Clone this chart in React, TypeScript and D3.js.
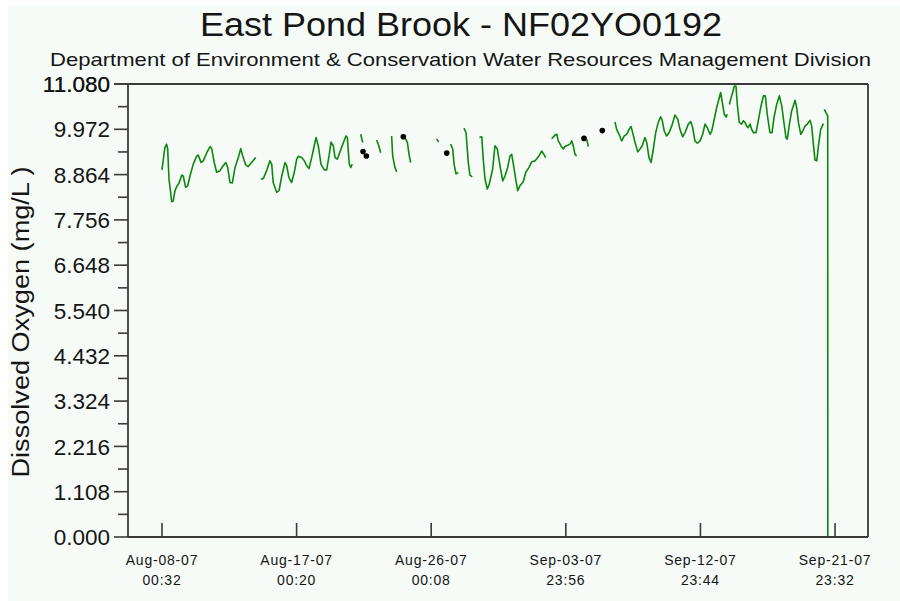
import React from "react";
import * as d3 from "d3";

// Dissolved oxygen record, East Pond Brook (NF02YO0192).
// Each point: [days since Aug-08-07 00:32, dissolved oxygen in mg/L].
// Logger gaps split the record into separate runs.
const run01: [number, number][] = [
  [0.0, 8.98], [0.09, 9.24], [0.2, 9.53], [0.31, 9.61], [0.38, 9.49], [0.47, 8.75],
  [0.65, 8.2], [0.75, 8.22], [0.87, 8.47], [0.98, 8.57], [1.14, 8.66], [1.32, 8.85],
  [1.42, 8.83], [1.58, 8.55], [1.72, 8.59], [1.87, 8.83], [2.09, 9.12], [2.32, 9.32],
  [2.42, 9.34], [2.61, 9.16], [2.76, 9.2], [2.99, 9.4], [3.21, 9.55], [3.32, 9.5],
  [3.49, 9.16], [3.65, 8.92], [3.87, 8.96], [4.09, 9.08], [4.26, 9.16], [4.39, 9.04],
  [4.54, 8.67], [4.7, 8.66], [4.88, 9.04], [5.1, 9.28], [5.26, 9.5], [5.36, 9.36],
  [5.59, 9.1], [5.76, 9.06], [5.99, 9.16], [6.26, 9.28],
];
const run02: [number, number][] = [
  [6.61, 8.75], [6.77, 8.77], [6.99, 8.96], [7.21, 9.2], [7.33, 9.12], [7.43, 8.67],
  [7.66, 8.43], [7.82, 8.47], [8.0, 8.83], [8.22, 9.16], [8.33, 9.08], [8.48, 8.79],
  [8.66, 8.67], [8.84, 8.92], [9.0, 9.24], [9.1, 9.31], [9.33, 9.28], [9.51, 9.2],
  [9.67, 9.08], [9.82, 9.01], [10.0, 9.28], [10.17, 9.57], [10.29, 9.77], [10.44, 9.57],
  [10.62, 9.12], [10.84, 8.98], [11.0, 8.98], [11.16, 9.32], [11.29, 9.66], [11.44, 9.57],
  [11.56, 9.28], [11.71, 9.24], [12.0, 9.53], [12.29, 9.81], [12.38, 9.77], [12.51, 9.12],
  [12.61, 9.04], [12.71, 9.12],
];
const run03: [number, number][] = [[13.27, 9.85], [13.41, 9.65]];
const run04: [number, number][] = [[14.34, 9.71], [14.48, 9.57], [14.61, 9.4]];
const run05: [number, number][] = [[15.34, 9.81], [15.41, 9.32], [15.56, 9.04], [15.68, 8.93]];
const run06: [number, number][] = [[16.23, 9.77], [16.39, 9.65], [16.52, 9.32], [16.61, 9.16]];
const run07: [number, number][] = [[18.35, 9.74], [18.48, 9.66]];
const run08: [number, number][] = [
  [19.28, 9.61], [19.42, 9.49], [19.51, 9.12], [19.64, 8.88], [19.79, 8.92],
];
const run09: [number, number][] = [
  [20.17, 10.0], [20.31, 9.89], [20.46, 9.16], [20.57, 8.85], [20.73, 8.81],
];
const run10: [number, number][] = [
  [21.2, 9.77], [21.36, 9.79], [21.46, 9.24], [21.58, 8.75], [21.73, 8.51], [21.86, 8.63],
  [22.09, 9.0], [22.24, 9.57], [22.4, 9.49], [22.58, 9.08], [22.76, 8.71], [22.91, 8.83],
  [23.09, 9.04], [23.25, 9.32], [23.36, 9.36], [23.47, 9.12], [23.63, 8.75], [23.76, 8.47],
  [23.91, 8.59], [24.13, 8.69], [24.3, 8.92], [24.52, 9.04], [24.7, 9.18], [24.92, 9.2],
  [25.14, 9.3], [25.36, 9.44], [25.54, 9.34], [25.63, 9.28],
];
const run11: [number, number][] = [
  [26.03, 9.74], [26.25, 9.83], [26.37, 9.85], [26.47, 9.69], [26.65, 9.57], [26.81, 9.49],
  [26.92, 9.55], [27.1, 9.58], [27.25, 9.61], [27.37, 9.69], [27.47, 9.57], [27.59, 9.36],
  [27.7, 9.32],
];
const run12: [number, number][] = [[28.37, 9.73], [28.48, 9.55]];
const run13: [number, number][] = [
  [30.26, 10.15], [30.37, 9.97], [30.53, 9.85], [30.71, 9.69], [30.88, 9.81], [31.04, 9.85],
  [31.2, 9.97], [31.33, 10.04], [31.44, 9.89], [31.6, 9.65], [31.78, 9.42], [31.93, 9.49],
  [32.08, 9.57], [32.26, 9.77], [32.38, 9.65], [32.53, 9.28], [32.67, 9.16], [32.82, 9.49],
  [32.98, 9.89], [33.15, 10.14], [33.31, 10.28], [33.42, 10.18], [33.55, 9.93], [33.71, 9.81],
  [33.87, 9.89], [34.05, 10.05], [34.27, 10.32], [34.45, 10.22], [34.6, 9.97], [34.78, 9.79],
  [34.94, 9.89], [35.16, 10.1], [35.32, 10.16], [35.45, 10.01], [35.6, 9.69], [35.76, 9.63],
  [35.94, 9.69], [36.12, 9.85], [36.27, 10.1], [36.43, 10.01], [36.61, 9.85], [36.72, 9.93],
  [36.87, 10.18], [37.05, 10.5], [37.23, 10.75], [37.32, 10.87], [37.45, 10.58], [37.56, 10.34],
  [37.68, 10.27], [37.76, 10.34],
];
const run14: [number, number][] = [
  [37.9, 10.58], [37.99, 10.71], [38.12, 10.87], [38.23, 11.03], [38.34, 11.03], [38.43, 10.58],
  [38.56, 10.14], [38.72, 10.1], [38.83, 10.18], [38.94, 10.14], [39.06, 10.05], [39.16, 10.01],
  [39.28, 10.1], [39.39, 9.97], [39.5, 9.89], [39.68, 9.89], [39.83, 10.18], [39.99, 10.5],
  [40.17, 10.79], [40.3, 10.79], [40.43, 10.34], [40.61, 9.89], [40.75, 9.89], [40.88, 10.26],
  [41.06, 10.58], [41.24, 10.79], [41.4, 10.54], [41.5, 10.26], [41.68, 9.77], [41.77, 9.73],
  [41.91, 10.1], [42.06, 10.42], [42.29, 10.68], [42.4, 10.5], [42.51, 10.14], [42.67, 9.85],
  [42.8, 9.93], [42.95, 10.05], [43.11, 10.1], [43.29, 10.19], [43.4, 10.05], [43.51, 9.61],
  [43.62, 9.22], [43.74, 9.2], [43.85, 9.57], [44.0, 9.97], [44.18, 10.11],
];
const run15: [number, number][] = [
  [44.24, 10.46], [44.35, 10.38], [44.47, 10.3], [44.475, 0.0],
];
const RUNS = [
  run01, run02, run03, run04, run05, run06, run07, run08,
  run09, run10, run11, run12, run13, run14, run15,
];

// Isolated single readings, drawn as dots.
const singleReadings: [number, number][] = [
  [13.43, 9.43], [13.65, 9.32], [16.12, 9.79], [19.02, 9.39], [28.19, 9.75], [29.41, 9.94],
];

// Axis settings
const Y_MAX = 11.08;
const Y_STEP = 1.108;
const X_START_DAYS = -2.27;
const X_END_DAYS = 47.16;
const X_TICK_STEP_MIN = 12948; // 8 days 23 h 48 min
const X_TICK_COUNT = 6;

const TITLE = "East Pond Brook - NF02YO0192";
const SUBTITLE =
  "Department of Environment & Conservation Water Resources Management Division";
const Y_LABEL = "Dissolved Oxygen (mg/L )";

const BASE = Date.UTC(2007, 7, 8, 0, 32);
const DAY_MS = 864e5;
const toDate = (d: number) => new Date(BASE + d * DAY_MS);

export default function App() {
  const W = 900;
  const H = 601;
  const left = 128;
  const right = 868;
  const top = 84;
  const bottom = 537;

  const x = d3.scaleUtc().domain([toDate(X_START_DAYS), toDate(X_END_DAYS)]).range([left, right]);
  const y = d3.scaleLinear().domain([0, Y_MAX]).range([bottom, top]);

  const line = d3
    .line<[number, number]>()
    .x((p) => x(toDate(p[0])))
    .y((p) => y(p[1]));

  const majorTicks = d3.range(0, 11).map((k) => +(k * Y_STEP).toFixed(3));
  majorTicks.push(Y_MAX);
  const minorTicks = d3.range(0, 10).map((k) => (k + 0.5) * Y_STEP);
  const fmtY = d3.format(".3f");

  const xTicks = d3.range(X_TICK_COUNT).map((k) => new Date(BASE + k * X_TICK_STEP_MIN * 60000));
  const fmtDate = d3.utcFormat("%b-%d-%y");
  const fmtTime = d3.utcFormat("%H:%M");

  const axisColor = "#3a3a3a";
  const textColor = "#151515";
  const font = "'Liberation Sans', Arial, sans-serif";

  return (
    <div style={{ position: "absolute", left: 0, top: 0, width: W, height: H, background: "#ffffff" }}>
      <svg width={W} height={H} style={{ display: "block" }} fontFamily={font}>
        <rect x={8} y={5} width={W - 8} height={H - 5} fill="#f6fbf7" />

        <text x={461} y={36} textAnchor="middle" fontSize={34} fill={textColor}
          textLength={522} lengthAdjust="spacingAndGlyphs">
          {TITLE}
        </text>
        <text x={460.5} y={66} textAnchor="middle" fontSize={18.5} fill={textColor}
          textLength={821} lengthAdjust="spacingAndGlyphs">
          {SUBTITLE}
        </text>

        <text
          x={28.5}
          y={322}
          transform="rotate(-90, 28.5, 322)"
          textAnchor="middle"
          fontSize={23}
          fill={textColor}
          textLength={311}
          lengthAdjust="spacingAndGlyphs"
        >
          {Y_LABEL}
        </text>

        {/* data */}
        <g fill="none" stroke="#0c890c" strokeWidth={1.6} strokeLinejoin="round">
          {RUNS.map((r, i) => (
            <path key={i} d={line(r) ?? undefined} />
          ))}
        </g>
        <g fill="#000">
          {singleReadings.map((p, i) => (
            <circle key={i} cx={x(toDate(p[0]))} cy={y(p[1])} r={2.8} />
          ))}
        </g>

        {/* frame */}
        <g stroke={axisColor} strokeWidth={1.8} fill="none">
          <line x1={left} y1={top} x2={right} y2={top} />
          <line x1={right} y1={top} x2={right} y2={bottom} />
          <line x1={left} y1={top} x2={left} y2={bottom} />
          <line x1={left} y1={bottom} x2={right} y2={bottom} />
        </g>

        {/* y axis */}
        <g stroke={axisColor} strokeWidth={1.6}>
          {majorTicks.map((t, i) => (
            <line key={"M" + i} x1={left - 14} x2={left} y1={y(t)} y2={y(t)} />
          ))}
          {minorTicks.map((t, i) => (
            <line key={"m" + i} x1={left - 10} x2={left} y1={y(t)} y2={y(t)} />
          ))}
        </g>
        <g fontSize={22.5} fill={textColor} textAnchor="end">
          {majorTicks.map((t, i) => (
            <text key={i} x={110} y={y(t)} dy="0.36em">
              {fmtY(t)}
            </text>
          ))}
        </g>

        {/* x axis */}
        <g stroke={axisColor} strokeWidth={1.6}>
          {xTicks.map((t, i) => (
            <line key={i} x1={x(t)} x2={x(t)} y1={bottom} y2={bottom - 14} />
          ))}
        </g>
        <g fontSize={14} fill={textColor} textAnchor="middle" letterSpacing={0.8}>
          {xTicks.map((t, i) => (
            <g key={i}>
              <text x={x(t)} y={565}>{fmtDate(t)}</text>
              <text x={x(t)} y={585}>{fmtTime(t)}</text>
            </g>
          ))}
        </g>
      </svg>
    </div>
  );
}
